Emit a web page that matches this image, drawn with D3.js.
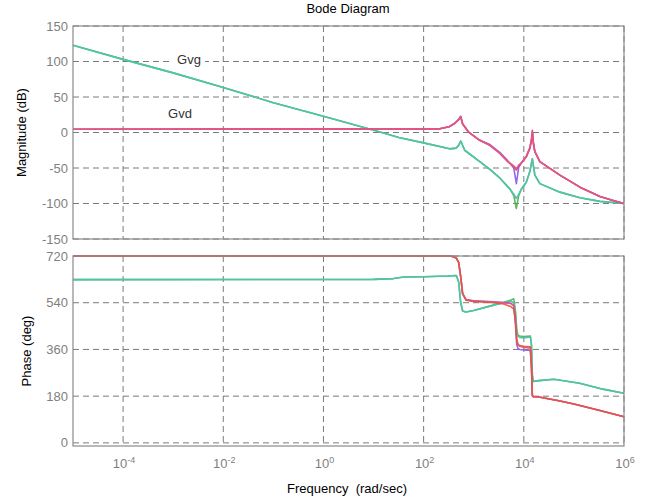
<html>
<head>
  <style>
    body { margin: 0; background: #fff; }
    svg text { font-family: "Liberation Sans", Arial, sans-serif; }
    svg .grid { stroke: #7a7a7a; stroke-width: 1px; stroke-dasharray: 6,4; fill: none; }
    svg .frame { stroke: #8a8a8a; stroke-width: 1.2px; fill: none; }
    svg .tick-label { font-size: 13px; fill: #7f7f7f; }
    svg .axis-label { font-size: 13px; fill: #000; }
    svg .curve { fill: none; stroke-width: 1.6px; stroke-linejoin: round; }
  </style>
</head>
<body>
<div id="bode"></div>
<script src="https://cdnjs.cloudflare.com/ajax/libs/d3/7.8.5/d3.min.js"></script>
<script>
// ---- data (frequency in rad/s) ----
var xTicks = [1e-4, 1e-2, 1e0, 1e2, 1e4, 1e6];
var xTickExp = ["-4", "-2", "0", "2", "4", "6"];
var magTicks = [150, 100, 50, 0, -50, -100, -150];
var phaseTicks = [720, 540, 360, 180, 0];

// Gvd magnitude (dB)
var gvdMagW = [1e-5, 200, 320, 420, 500, 550, 600, 780, 1320, 2100, 3300, 4800, 6300, 7100, 7900, 8900, 11200, 13200, 14300, 14800, 15500, 16600, 20900, 52500, 132000, 331000, 631000, 1e6];
var gvdMagPink   = [4.6, 4.8, 8, 13, 18, 22, 12, 1, -11, -18, -29, -41, -47, -51, -46, -43, -34, -22, -10, 1, -15, -27, -41, -60, -77, -90, -96, -100];
var gvdMagPurple = [4.6, 4.8, 8, 13, 18.5, 23, 12.5, 1, -11, -17, -28, -40, -50, -72, -49, -43, -34, -22, -10, 0, -15, -27, -41, -60, -77, -90, -96, -100];
var gvdMagRed    = [4.6, 4.8, 8, 13, 18, 22, 12, 1, -11, -18, -29, -41, -48, -53, -47, -43, -34, -22, -8, 3, -14, -27, -41, -60, -77, -90, -96, -100];

// Gvg magnitude (dB)
var gvgMagW = [1e-5, 1e-4, 1e-3, 1e-2, 0.1, 1, 13, 32, 100, 330, 450, 500, 550, 660, 1320, 2100, 3300, 5200, 6300, 7100, 7900, 8900, 11200, 13200, 14800, 16600, 20900, 52500, 132000, 331000, 1e6];
var gvgMagTeal  = [123, 103, 84, 63.5, 42, 23, 1, -7, -14.6, -23, -22, -18, -12, -25, -41, -52, -64, -79, -87, -93, -87, -80, -70, -55, -37, -60, -72, -84, -92, -97, -100];
var gvgMagGreen = [123, 103, 84, 63.5, 42, 23, 1, -7, -14.6, -23, -22, -18, -12, -25, -41, -52, -64, -79, -89, -107, -89, -80, -70, -55, -37, -60, -72, -84, -92, -97, -100];

// Gvd phase (deg)
var gvdPhW = [1e-5, 320, 380, 450, 500, 550, 600, 700, 1000, 2500, 4000, 5500, 6300, 6800, 7200, 7600, 8300, 10000, 13500, 14200, 14800, 15500, 20000, 50000, 100000, 330000, 1e6];
var gvdPhPink   = [720, 720, 718, 712, 695, 640, 575, 552, 546, 543, 540, 537, 530, 480, 400, 378, 372, 368, 366, 300, 182, 178, 177, 162, 150, 125, 101];
var gvdPhPurple = [720, 720, 718, 712, 695, 640, 575, 552, 547, 544, 541, 538, 528, 460, 380, 364, 360, 358, 356, 290, 182, 178, 177, 162, 150, 125, 101];
var gvdPhRed    = [720, 720, 718, 712, 695, 640, 575, 550, 545, 540, 535, 525, 515, 470, 400, 380, 375, 372, 370, 300, 182, 178, 177, 162, 150, 125, 101];

// Gvg phase (deg)
var gvgPhW = [1e-5, 10, 25, 40, 100, 300, 450, 500, 550, 600, 700, 1000, 2000, 4000, 5500, 6300, 6800, 7200, 7600, 8300, 10000, 13500, 14200, 14800, 15500, 20000, 40000, 130000, 380000, 1e6];
var gvgPhTeal  = [629, 630, 633, 639, 640, 643, 645, 620, 540, 508, 504, 510, 526, 540, 546, 540, 500, 430, 412, 406, 404, 408, 380, 260, 237, 240, 245, 230, 207, 191];
var gvgPhGreen = [629, 630, 633, 639, 640, 643, 645, 620, 540, 508, 504, 510, 526, 542, 550, 555, 510, 440, 415, 412, 410, 412, 380, 260, 237, 240, 245, 230, 207, 191];

// ---- layout ----
var width = 651, height = 503;
var left = 73, right = 624;
var magTop = 26, magBottom = 239;
var phTop = 256, phBottom = 446;

var svg = d3.select("#bode").append("svg")
    .attr("width", width)
    .attr("height", height);

var xScale = d3.scaleLog().domain([1e-5, 1e6]).range([left, right]);
var yMag = d3.scaleLinear().domain([-150, 150]).range([magBottom, magTop]);
var yPh = d3.scaleLinear().domain([-12, 720]).range([phBottom, phTop]);

// grid lines
function drawGrid(yScale, ticks, top, bottom) {
  svg.append("g").selectAll("line.h")
    .data(ticks)
    .enter().append("line")
      .classed("grid", true)
      .attr("x1", left).attr("x2", right)
      .attr("y1", function (d) { return yScale(d); })
      .attr("y2", function (d) { return yScale(d); });
  svg.append("g").selectAll("line.v")
    .data(xTicks)
    .enter().append("line")
      .classed("grid", true)
      .attr("x1", function (d) { return xScale(d); })
      .attr("x2", function (d) { return xScale(d); })
      .attr("y1", top).attr("y2", bottom);
}
drawGrid(yMag, magTicks, magTop, magBottom);
drawGrid(yPh, phaseTicks, phTop, phBottom);

// curves
var line = function (yScale) {
  return d3.line()
    .x(function (d) { return xScale(d[0]); })
    .y(function (d) { return yScale(d[1]); });
};

function drawCurve(ws, vs, yScale, color, op) {
  var pts = ws.map(function (w, i) { return [w, vs[i]]; });
  svg.append("path")
    .classed("curve", true)
    .attr("d", line(yScale)(pts))
    .style("stroke", color)
    .style("opacity", op);
}

var teal = "#4ec4ad", green = "#4fb050", pink = "#e2568a", purple = "#8a58ee", red = "#ec4048";

drawCurve(gvgMagW, gvgMagGreen, yMag, green, 0.9);
drawCurve(gvgMagW, gvgMagTeal, yMag, teal, 1);
drawCurve(gvdMagW, gvdMagPurple, yMag, purple, 0.9);
drawCurve(gvdMagW, gvdMagRed, yMag, red, 0.9);
drawCurve(gvdMagW, gvdMagPink, yMag, pink, 0.9);

drawCurve(gvgPhW, gvgPhGreen, yPh, green, 0.9);
drawCurve(gvgPhW, gvgPhTeal, yPh, teal, 1);
drawCurve(gvdPhW, gvdPhPurple, yPh, purple, 0.9);
drawCurve(gvdPhW, gvdPhPink, yPh, pink, 0.9);
drawCurve(gvdPhW, gvdPhRed, yPh, "#e4553a", 0.9);

// frames
svg.append("rect").classed("frame", true)
  .attr("x", left).attr("y", magTop)
  .attr("width", right - left).attr("height", magBottom - magTop);
svg.append("rect").classed("frame", true)
  .attr("x", left).attr("y", phTop)
  .attr("width", right - left).attr("height", phBottom - phTop);

// y tick labels
svg.append("g").selectAll("text")
  .data(magTicks)
  .enter().append("text")
    .classed("tick-label", true)
    .attr("x", left - 5)
    .attr("y", function (d) { return yMag(d); })
    .attr("dy", "0.35em")
    .style("text-anchor", "end")
    .text(function (d) { return d; });

svg.append("g").selectAll("text")
  .data(phaseTicks)
  .enter().append("text")
    .classed("tick-label", true)
    .attr("x", left - 5)
    .attr("y", function (d) { return yPh(d); })
    .attr("dy", "0.35em")
    .style("text-anchor", "end")
    .text(function (d) { return d; });

// x tick labels: 10 with superscript
var xl = svg.append("g").selectAll("text")
  .data(xTicks)
  .enter().append("text")
    .classed("tick-label", true)
    .attr("x", function (d) { return xScale(d) + 1; })
    .attr("y", 468)
    .style("text-anchor", "middle");
xl.append("tspan").text("10");
xl.append("tspan")
  .attr("dy", "-0.6em")
  .style("font-size", "9px")
  .text(function (d, i) { return xTickExp[i]; });

// titles
svg.append("text")
  .classed("axis-label", true)
  .attr("x", 348).attr("y", 13)
  .style("text-anchor", "middle")
  .text("Bode Diagram");

svg.append("text")
  .classed("axis-label", true)
  .attr("transform", "translate(26," + (magTop + magBottom) / 2 + ") rotate(-90)")
  .style("text-anchor", "middle")
  .text("Magnitude (dB)");

svg.append("text")
  .classed("axis-label", true)
  .attr("transform", "translate(31," + (phTop + phBottom) / 2 + ") rotate(-90)")
  .style("text-anchor", "middle")
  .text("Phase (deg)");

svg.append("text")
  .classed("axis-label", true)
  .attr("x", 347).attr("y", 493)
  .style("text-anchor", "middle")
  .style("white-space", "pre")
  .text("Frequency  (rad/sec)");

// curve labels
svg.append("rect")
  .attr("x", 173).attr("y", 53)
  .attr("width", 32).attr("height", 14)
  .style("fill", "#fff");
svg.append("text")
  .attr("x", 189).attr("y", 64)
  .style("text-anchor", "middle")
  .style("font-size", "13px")
  .style("fill", "#333")
  .text("Gvg");
svg.append("text")
  .attr("x", 180).attr("y", 118)
  .style("text-anchor", "middle")
  .style("font-size", "13px")
  .style("fill", "#333")
  .text("Gvd");
</script>
</body>
</html>
